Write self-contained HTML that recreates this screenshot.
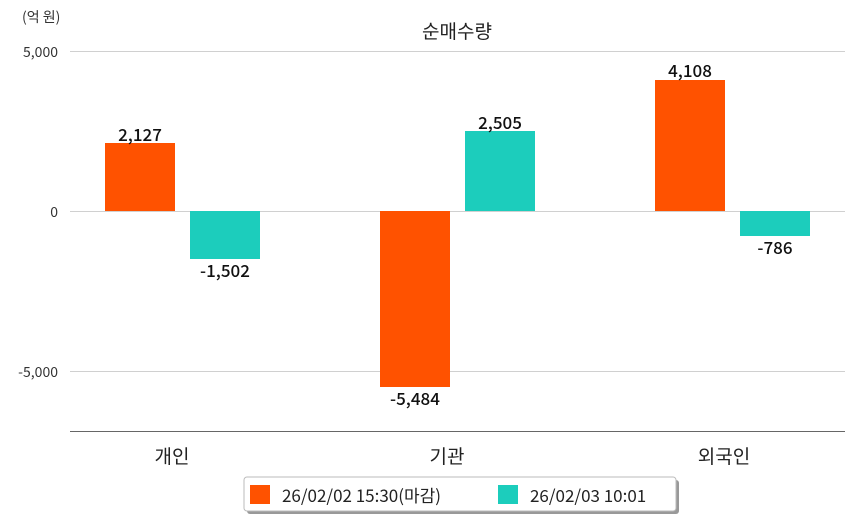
<!DOCTYPE html>
<html><head><meta charset="utf-8"><style>
body{margin:0;background:#fff;}
svg text{font-family:"Noto Sans CJK KR","Liberation Sans",sans-serif;}
</style></head><body>
<svg width="854" height="520" viewBox="0 0 854 520" xmlns="http://www.w3.org/2000/svg">
<rect width="854" height="520" fill="#fff"/>
<text x="22" y="22" font-size="14" fill="#333">(억 원)</text>
<text x="457" y="38" font-size="19" fill="#222" text-anchor="middle">순매수량</text>
<g stroke="#d0d0d0" stroke-width="1">
<line x1="70" y1="51.5" x2="845" y2="51.5"/>
<line x1="70" y1="211.5" x2="845" y2="211.5"/>
<line x1="70" y1="371.5" x2="845" y2="371.5"/>
</g>
<line x1="70" y1="431.5" x2="845" y2="431.5" stroke="#666" stroke-width="1"/>
<g font-size="14" fill="#333" text-anchor="end">
<text x="58" y="57">5,000</text>
<text x="58" y="217">0</text>
<text x="58" y="377">-5,000</text>
</g>
<g fill="#ff5200">
<rect x="105" y="143" width="70" height="68"/>
<rect x="380" y="211" width="70" height="176"/>
<rect x="655" y="80" width="70" height="131"/>
</g>
<g fill="#1ccdbc">
<rect x="190" y="211" width="70" height="48"/>
<rect x="465" y="131" width="70" height="80"/>
<rect x="740" y="211" width="70" height="25"/>
</g>
<g font-size="17" fill="#111" text-anchor="middle" font-weight="500">
<text x="140" y="141">2,127</text>
<text x="225" y="277">-1,502</text>
<text x="415" y="405">-5,484</text>
<text x="500" y="129">2,505</text>
<text x="690" y="77">4,108</text>
<text x="775" y="254">-786</text>
</g>
<g font-size="19" fill="#222" text-anchor="middle">
<text x="172" y="463">개인</text>
<text x="447" y="463">기관</text>
<text x="724" y="463">외국인</text>
</g>
<rect x="247" y="480" width="432" height="34" rx="3" fill="#999"/>
<rect x="244" y="477" width="432" height="34" rx="3" fill="#fff" stroke="#bbb"/>
<rect x="250" y="485" width="20" height="19" fill="#ff5200"/>
<text x="282" y="502" font-size="17" fill="#222">26/02/02 15:30(마감)</text>
<rect x="498" y="485" width="20" height="19" fill="#1ccdbc"/>
<text x="530" y="502" font-size="17" fill="#222">26/02/03 10:01</text>
</svg>
</body></html>
